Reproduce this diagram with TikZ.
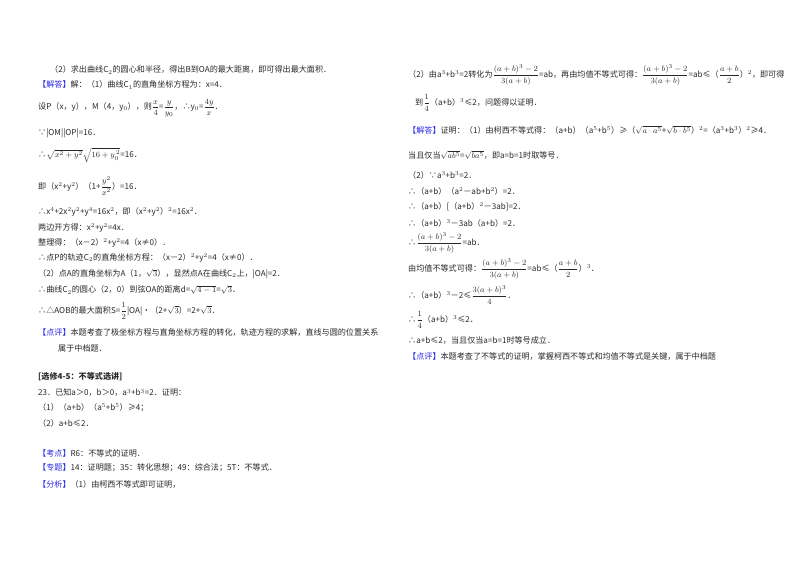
\documentclass[tikz,border=0pt]{standalone}
\usepackage{fontspec}
\usepackage{amsmath,amssymb}
\setmainfont{Noto Sans CJK SC}
\definecolor{lab}{RGB}{40,40,230}
\definecolor{txt}{RGB}{40,40,40}
\newcommand{\tg}[1]{\textcolor{lab}{【#1】}}
\newcommand{\fr}[2]{$\dfrac{#1}{#2}$}
\begin{document}
\begin{tikzpicture}[x=1pt,y=-1pt,
  ln/.style={anchor=west,inner sep=0pt,text=txt,font=\fontsize{8.1}{9}\selectfont}]
\useasboundingbox (0,0) rectangle (800,565);
\fill[white] (0,0) rectangle (800,565);
% left column
\node[ln] (l1) at (50,70) {（2）求出曲线C$_2$的圆心和半径，得出B到OA的最大距离，即可得出最大面积．};
\node[ln] (l2) at (38,85) {\tg{解答}解：（1）曲线C$_1$的直角坐标方程为：x=4．};
\node[ln] (l3) at (38,108) {设P（x，y），M（4，y$_0$），则\fr{x}{4}=\fr{y}{y_0}，∴y$_0$=\fr{4y}{x}．};
\node[ln] (l4) at (38,133) {∵|OM||OP|=16．};
\node[ln] (l5) at (38,155) {∴$\sqrt{x^2+y^2}\sqrt{16+y_0^{\,2}}$=16．};
\node[ln] (l6) at (38,186) {即（x$^2$+y$^2$）（1+\fr{y^2}{x^2}）=16．};
\node[ln] (l7) at (38,212) {∴x$^4$+2x$^2$y$^2$+y$^4$=16x$^2$，即（x$^2$+y$^2$）$^2$=16x$^2$．};
\node[ln] (l8) at (38,228) {两边开方得：x$^2$+y$^2$=4x．};
\node[ln] (l9) at (38,243) {整理得：（x－2）$^2$+y$^2$=4（x≠0）．};
\node[ln] (l10) at (38,258) {∴点P的轨迹C$_2$的直角坐标方程：（x－2）$^2$+y$^2$=4（x≠0）．};
\node[ln] (l11) at (38,274) {（2）点A的直角坐标为A（1，$\sqrt3$），显然点A在曲线C$_2$上，|OA|=2．};
\node[ln] (l12) at (38,290) {∴曲线C$_2$的圆心（2，0）到弦OA的距离d=$\sqrt{4-1}$=$\sqrt3$．};
\node[ln] (l13) at (38,311) {∴△AOB的最大面积S=\fr{1}{2}|OA|•（2+$\sqrt3$）=2+$\sqrt3$．};
\node[ln] (l14) at (38,332) {\tg{点评}本题考查了极坐标方程与直角坐标方程的转化，轨迹方程的求解，直线与圆的位置关系};
\node[ln] (l15) at (58,348) {属于中档题．};
\node[ln,font=\fontsize{8.1}{9}\selectfont\bfseries] (l16) at (38,377) {[选修4-5：不等式选讲]};
\node[ln] (l17) at (38,393) {23．已知a＞0，b＞0，a$^3$+b$^3$=2．证明：};
\node[ln] (l18) at (38,408) {（1）（a+b）（a$^5$+b$^5$）≥4；};
\node[ln] (l19) at (38,423) {（2）a+b≤2．};
\node[ln] (l20) at (38,453) {\tg{考点}R6：不等式的证明．};
\node[ln] (l21) at (38,468) {\tg{专题}14：证明题；35：转化思想；49：综合法；5T：不等式．};
\node[ln] (l22) at (38,484) {\tg{分析}（1）由柯西不等式即可证明，};
% right column
\node[ln] (r1) at (408,75) {（2）由a$^3$+b$^3$=2转化为\fr{(a+b)^3-2}{3(a+b)}=ab，再由均值不等式可得：\fr{(a+b)^3-2}{3(a+b)}=ab≤（\fr{a+b}{2}）$^2$，即可得};
\node[ln] (r2) at (415,103) {到\fr{1}{4}（a+b）$^3$≤2，问题得以证明．};
\node[ln] (r3) at (408,130) {\tg{解答}证明：（1）由柯西不等式得：（a+b）（a$^5$+b$^5$）≥（$\sqrt{a\cdot a^5}$+$\sqrt{b\cdot b^5}$）$^2$=（a$^3$+b$^3$）$^2$≥4．};
\node[ln] (r4) at (408,155) {当且仅当$\sqrt{ab^5}$=$\sqrt{ba^5}$，即a=b=1时取等号．};
\node[ln] (r5) at (408,175) {（2）∵a$^3$+b$^3$=2．};
\node[ln] (r6) at (408,191) {∴（a+b）（a$^2$－ab+b$^2$）=2．};
\node[ln] (r7) at (408,207) {∴（a+b）[（a+b）$^2$－3ab]=2．};
\node[ln] (r8) at (408,223) {∴（a+b）$^3$－3ab（a+b）=2．};
\node[ln] (r9) at (408,243) {∴\fr{(a+b)^3-2}{3(a+b)}=ab．};
\node[ln] (r10) at (408,269) {由均值不等式可得：\fr{(a+b)^3-2}{3(a+b)}=ab≤（\fr{a+b}{2}）$^3$．};
\node[ln] (r11) at (408,295) {∴（a+b）$^3$－2≤\fr{3(a+b)^3}{4}．};
\node[ln] (r12) at (408,320) {∴\fr{1}{4}（a+b）$^3$≤2．};
\node[ln] (r13) at (408,341) {∴a+b≤2，当且仅当a=b=1时等号成立．};
\node[ln] (r14) at (408,357) {\tg{点评}本题考查了不等式的证明，掌握柯西不等式和均值不等式是关键，属于中档题};
\end{tikzpicture}
\end{document}
